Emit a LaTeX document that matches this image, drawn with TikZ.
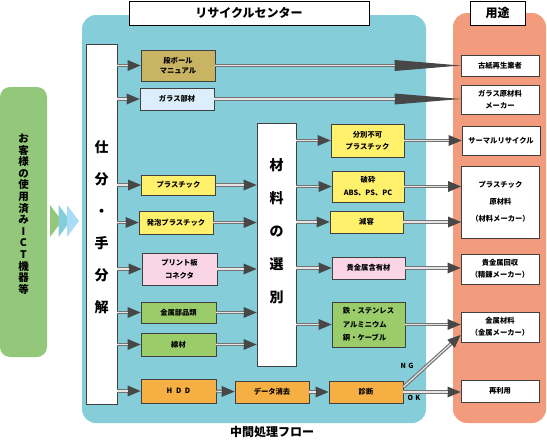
\documentclass[tikz,border=0pt]{standalone}
\usepackage{fontspec}
\setmainfont{Noto Sans CJK JP}
\usepackage{tikz}
\usetikzlibrary{arrows.meta}
\definecolor{centerbg}{HTML}{85CDD8}
\definecolor{usebg}{HTML}{F39C7D}
\definecolor{custbg}{HTML}{93C87A}
\definecolor{olivebox}{HTML}{C8B463}
\definecolor{glassbox}{HTML}{DCEEF9}
\definecolor{yellowbox}{HTML}{FFF16B}
\definecolor{pinkbox}{HTML}{F9D5E5}
\definecolor{greenbox}{HTML}{9ACD6A}
\definecolor{hddbox}{HTML}{F5AF42}
\definecolor{chevblue}{HTML}{A8DCF5}

\begin{document}
\begin{tikzpicture}[x=1pt,y=-1pt,
            box/.style={draw=black!75, line width=0.8pt, inner sep=1pt, align=center,
                        font=\fontsize{7.3}{10}\selectfont\bfseries},
            usebox/.style={box, fill=white, minimum width=78pt},
            title/.style={draw=black, line width=0.9pt, fill=white, minimum height=24pt,
                          font=\fontsize{12}{14}\selectfont\bfseries},
            flow/.style={draw=black!55, line width=3.5pt,
                         -{Triangle[length=#1,width=11pt,line width=0pt,color=black!72]},
                         postaction={draw=black!10, line width=1.2pt, -, shorten >=#1}},
            flow/.default=13pt]
        \useasboundingbox (0,0) rectangle (547,442);
        % background areas
        \fill[centerbg, rounded corners=14pt] (82,15) rectangle (426,423);
        \fill[usebg, rounded corners=14pt] (453,13) rectangle (546,423);
        \fill[custbg, rounded corners=10pt] (0,87) rectangle (47,357);
        \node[font=\fontsize{10.5}{11.6}\selectfont\bfseries, align=center] (cust) at (23.5,214)
            {お\\客\\様\\の\\使\\用\\済\\み\\I\\C\\T\\機\\器\\等};
        \fill[custbg] (50,205) -- (62,221) -- (50,237) -- cycle;
        \fill[centerbg] (58.5,205) -- (70.5,221) -- (58.5,237) -- cycle;
        \fill[chevblue] (67,205) -- (79,221) -- (67,237) -- cycle;
        \node[title, minimum width=240pt] (centertitle) at (249,13) {リサイクルセンター};
        \node[title, minimum width=55pt] (usetitle) at (497.5,13) {用途};
        \node[font=\fontsize{12}{14}\selectfont\bfseries] (flowtitle) at (272,432) {中間処理フロー};
        % sorting boxes
        \node[box, fill=white, minimum width=31pt, minimum height=360pt] (sort) at (101.5,224) {};
        \node[font=\fontsize{14}{32}\selectfont\bfseries, align=center] (sortlbl) at (101.5,227)
            {仕\\分\\・\\手\\分\\解};
        \node[box, fill=white, minimum width=39pt, minimum height=243pt] (sel) at (276.5,244.5) {};
        \node[font=\fontsize{14}{33}\selectfont\bfseries, align=center] (sellbl) at (276.5,231.5)
            {材\\料\\の\\選\\別};
        % first column
        \node[box, fill=olivebox, minimum width=74pt, minimum height=31pt, font=\fontsize{7.3}{10.5}\selectfont\bfseries] (dan) at (178,65.5) {段ボール\\マニュアル};
        \node[box, fill=glassbox, minimum width=74pt, minimum height=22pt] (glass) at (177,99) {ガラス部材};
        \node[box, fill=yellowbox, minimum width=74pt, minimum height=20pt] (plastic) at (178.5,185) {プラスチック};
        \node[box, fill=yellowbox, minimum width=74pt, minimum height=23pt] (foam) at (176,222.5) {発泡プラスチック};
        \node[box, fill=pinkbox, minimum width=75pt, minimum height=32pt, font=\fontsize{7.3}{13}\selectfont\bfseries] (pcb) at (179.5,269) {プリント板\\コネクタ};
        \node[box, fill=greenbox, minimum width=75pt, minimum height=21pt] (parts) at (178.5,312.5) {金属部品類};
        \node[box, fill=greenbox, minimum width=75pt, minimum height=23pt] (wire) at (178.5,344.5) {線材};
        \node[box, fill=hddbox, minimum width=75pt, minimum height=24pt] (hdd) at (178.5,391) {H\,\,\,D\,\,\,D};
        \node[box, fill=hddbox, minimum width=74pt, minimum height=22pt] (erase) at (272,392) {データ消去};
        \node[box, fill=hddbox, minimum width=74pt, minimum height=22pt] (diag) at (366,392) {診断};
        % second column
        \node[box, fill=yellowbox, minimum width=73pt, minimum height=33pt, font=\fontsize{7.3}{12}\selectfont\bfseries] (nosort) at (367.5,140.5) {分別不可\\プラスチック};
        \node[box, fill=yellowbox, minimum width=72pt, minimum height=31pt, font=\fontsize{7.3}{13}\selectfont\bfseries] (crush) at (368,186.5) {破砕\\ABS、PS、PC};
        \node[box, fill=yellowbox, minimum width=73pt, minimum height=22pt] (reduce) at (366.5,222) {減容};
        \node[box, fill=pinkbox, minimum width=73pt, minimum height=22pt] (precious) at (368.5,268) {貴金属含有材};
        \node[box, fill=greenbox, minimum width=73pt, minimum height=45pt, align=left, font=\fontsize{7.3}{13.5}\selectfont\bfseries] (metals) at (368.5,324.5) {鉄・ステンレス\\アルミニウム\\銅・ケーブル};
        % destinations
        \node[usebox, minimum height=21pt] (koshi) at (500,65.5) {古紙再生業者};
        \node[usebox, minimum height=29pt, font=\fontsize{7.3}{12.5}\selectfont\bfseries] (glassmk) at (500,99.5) {ガラス原材料\\メーカー};
        \node[usebox, minimum height=29pt] (thermal) at (501,140.5) {サーマルリサイクル};
        \node[usebox, minimum height=72pt, font=\fontsize{7.3}{17}\selectfont\bfseries] (plastmat) at (500.5,202) {プラスチック\\原材料\\（材料メーカー）};
        \node[usebox, minimum height=30pt, font=\fontsize{7.3}{12}\selectfont\bfseries] (precrec) at (500,269) {貴金属回収\\（精錬メーカー）};
        \node[usebox, minimum height=30pt, font=\fontsize{7.3}{12}\selectfont\bfseries] (metmat) at (500,327) {金属材料\\（金属メーカー）};
        \node[usebox, minimum height=22pt] (reuse) at (500,391) {再利用};
        % arrows
        \foreach \b in {dan,glass,plastic,foam,pcb,parts,wire,hdd}
            \draw[flow] (sort.east |- \b) -- (\b);
        \foreach \b in {plastic,foam,pcb,parts,wire}
            \draw[flow] (\b) -- (\b -| sel.west);
        \foreach \b in {nosort,crush,reduce,precious,metals}
            \draw[flow] (sel.east |- \b) -- (\b);
        \draw[flow=66pt] (dan) -- (dan -| koshi.west);
        \draw[flow=66pt] (glass) -- (glass -| glassmk.west);
        \draw[flow] (nosort) -- (nosort -| thermal.west);
        \draw[flow] (crush) -- (crush -| plastmat.west);
        \draw[flow] (reduce) -- (reduce -| plastmat.west);
        \draw[flow] (precious) -- (precious -| precrec.west);
        \draw[flow] (metals) -- (metals -| metmat.west);
        \draw[flow] (hdd) -- (erase);
        \draw[flow] (erase) -- (diag);
        \draw[flow] (diag) -- (diag -| reuse.west);
        \draw[flow] ([yshift=5pt]diag.east) -- ([yshift=-8pt]metmat.west);
        \node[font=\fontsize{7}{8}\selectfont\bfseries] (ng) at (407,366) {N\,\,G};
        \node[font=\fontsize{7}{8}\selectfont\bfseries] (ok) at (414,398) {O\,\,K};
      \end{tikzpicture}
\end{document}
